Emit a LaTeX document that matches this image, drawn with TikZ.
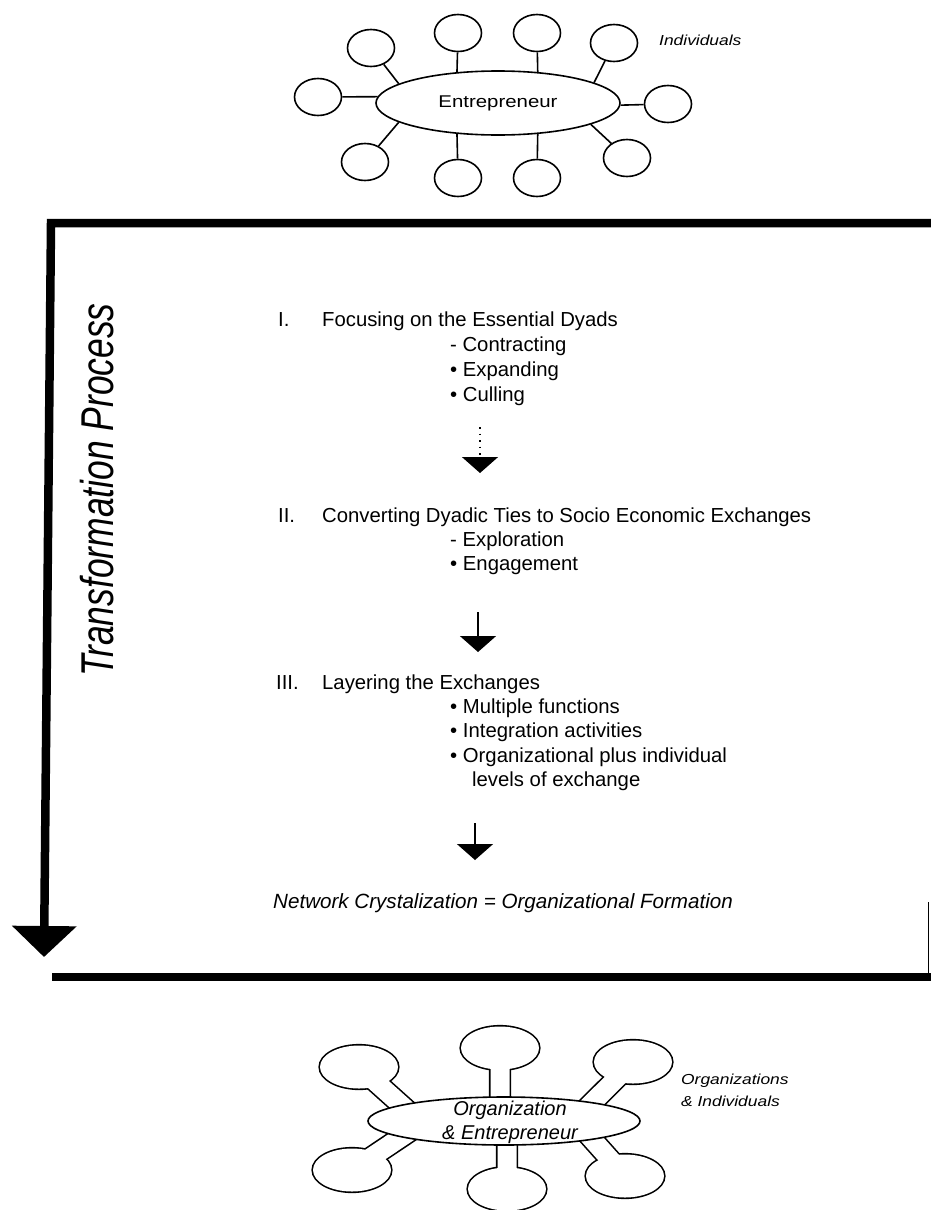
\documentclass[tikz,border=0pt]{standalone}
\usepackage{fontspec}
\setmainfont{Liberation Sans}
\newfontfamily\wideface{Liberation Sans}[FakeStretch=1.2]
\newfontfamily\narrowface{Liberation Sans}[FakeStretch=0.77]
\usetikzlibrary{shapes.geometric,arrows.meta,calc}
\pgfdeclarelayer{under}
\pgfsetlayers{under,main}

% strip joining a hub border point (#2) to a satellite node (#3)
\newcommand\neckstrip[3]{%
  \coordinate (nk-in) at ($(#2)!-10pt!(#3.center)$);
  \path[#1] ($(nk-in)!9.5pt!90:(#3.center)$) -- ($(#3.center)!9.5pt!-90:(nk-in)$)
    -- ($(#3.center)!9.5pt!90:(nk-in)$) -- ($(nk-in)!9.5pt!-90:(#3.center)$) -- cycle;}

\tikzset{
  hub/.style={ellipse, draw, line width=1.6pt, inner sep=0pt},
  pod/.style={ellipse, draw, line width=1.6pt, minimum width=47pt, minimum height=37pt, inner sep=0pt},
  spoke/.style={line width=1.6pt},
  bigpod/.style={ellipse, draw, line width=3.2pt, minimum width=78pt, minimum height=43pt, inner sep=0pt},
  txt/.style={anchor=base west, inner sep=0pt, font=\fontsize{20.3}{24}\selectfont},
  ittxt/.style={anchor=base west, inner sep=0pt, font=\itshape\fontsize{20.6}{24}\selectfont},
  tag/.style={anchor=west, inner sep=0pt, align=left, font=\wideface\itshape\fontsize{14.5}{22}\selectfont},
  flowarrow/.style={line width=1.6pt, -{Triangle[width=36pt,length=16pt]}},
  procline/.style={line width=8.5pt, -{Triangle[width=63pt,length=31pt]}},
  frameline/.style={line width=8pt},
}

\begin{document}
\begin{tikzpicture}[x=1pt,y=-1pt]
\useasboundingbox (0,0) rectangle (931,1210);

% ---------- individuals around the entrepreneur ----------
\node[hub, minimum width=244pt, minimum height=64pt] (E) at (498,103)
  {\wideface\fontsize{17}{20}\selectfont Entrepreneur};
\node[pod] (tl) at (371,48) {};
\node[pod] (l)  at (318,97) {};
\node[pod] (t1) at (458,33) {};
\node[pod] (t2) at (537,33) {};
\node[pod] (tr) at (614,43) {};
\node[pod] (r)  at (668,104) {};
\node[pod] (br) at (627,158) {};
\node[pod] (b2) at (537,178) {};
\node[pod] (b1) at (458,178) {};
\node[pod] (bl) at (365,162) {};
\draw[spoke] (E.169) -- (tl);
\draw[spoke] (E.177) -- (l);
\draw[spoke] (E.143) -- (t1);
\draw[spoke] (E.38)  -- (t2);
\draw[spoke] (E.12)  -- (tr);
\draw[spoke] (E.359) -- (r);
\draw[spoke] (E.347) -- (br);
\draw[spoke] (E.322) -- (b2);
\draw[spoke] (E.217) -- (b1);
\draw[spoke] (E.191) -- (bl);
\node[tag] (ind) at (659,40) {Individuals};

% ---------- transformation frame ----------
\coordinate (fr-r) at (931,223);
\coordinate (fr-c) at (51,223);
\coordinate (fr-tip) at (44,957);
\draw[procline] (fr-r) -- (fr-c) -- (fr-tip);
\coordinate (fb-l) at (52,977);
\coordinate (fb-r) at (931,977);
\draw[frameline] (fb-l) -- (fb-r);
\coordinate (fs-a) at (928,902);
\coordinate (fs-b) at (928,975);
\draw[line width=0.8pt] (fs-a) -- (fs-b);

\node[rotate=90, inner sep=0pt, font=\narrowface\itshape\fontsize{46}{50}\selectfont]
  (tp) at (97,490) {Transformation Process};

% stage I
\node[txt] (n1) at (278,326) {I.};
\node[txt] (h1) at (322,326) {Focusing on the Essential Dyads};
\node[txt] (i11) at (450,351) {- Contracting};
\node[txt] (i12) at (450,376) {• Expanding};
\node[txt] (i13) at (450,401) {• Culling};
\coordinate (a1s) at (480,427);
\coordinate (a1m) at (480,457);
\coordinate (a1e) at (480,473);
\draw[line width=1.6pt, dash pattern=on 1.5pt off 5pt] (a1s) -- (a1m);
\draw[flowarrow] (a1m) -- (a1e);

% stage II
\node[txt] (n2) at (278,522) {II.};
\node[txt] (h2) at (322,522) {Converting Dyadic Ties to Socio Economic Exchanges};
\node[txt] (i21) at (450,546) {- Exploration};
\node[txt] (i22) at (450,570) {• Engagement};
\coordinate (a2s) at (478,612);
\coordinate (a2e) at (478,652);
\draw[flowarrow] (a2s) -- (a2e);

% stage III
\node[txt] (n3) at (276,689) {III.};
\node[txt] (h3) at (322,689) {Layering the Exchanges};
\node[txt] (i31) at (450,713) {• Multiple functions};
\node[txt] (i32) at (450,737) {• Integration activities};
\node[txt] (i33) at (450,762) {• Organizational plus individual};
\node[txt] (i34) at (472,786) {levels of exchange};
\coordinate (a3s) at (475,823);
\coordinate (a3e) at (475,860);
\draw[flowarrow] (a3s) -- (a3e);

\node[ittxt] (net) at (273,908) {Network Crystalization = Organizational Formation};

% ---------- organizations around the organization ----------
\node[hub, fill=white, minimum width=272pt, minimum height=48pt] (E2) at (504,1121) {};
\node[inner sep=0pt, align=center, font=\itshape\fontsize{20}{24}\selectfont]
  (e2txt) at (510,1122) {Organization\\\& Entrepreneur};
\node[tag] (orgind) at (681,1090) {Organizations\\\& Individuals};

\begin{pgfonlayer}{under}
  \fill[white] (0,0) rectangle (931,1210);
  \node[bigpod] (nt)  at (500,1048) {};
  \node[bigpod] (ntl) at (359,1067) {};
  \node[bigpod] (ntr) at (633,1062) {};
  \node[bigpod] (nbl) at (352,1170) {};
  \node[bigpod] (nb)  at (507,1189) {};
  \node[bigpod] (nbr) at (625,1176) {};
  \neckstrip{draw, line width=3.2pt}{E2.99}{nt}
  \neckstrip{draw, line width=3.2pt}{E2.171}{ntl}
  \neckstrip{draw, line width=3.2pt}{E2.12}{ntr}
  \neckstrip{draw, line width=3.2pt}{E2.189}{nbl}
  \neckstrip{draw, line width=3.2pt}{E2.277}{nb}
  \neckstrip{draw, line width=3.2pt}{E2.348}{nbr}
  \foreach \p in {nt,ntl,ntr,nbl,nb,nbr}
    \fill[white] (\p.center) ellipse [x radius=39pt, y radius=21.5pt];
  \neckstrip{fill=white}{E2.99}{nt}
  \neckstrip{fill=white}{E2.171}{ntl}
  \neckstrip{fill=white}{E2.12}{ntr}
  \neckstrip{fill=white}{E2.189}{nbl}
  \neckstrip{fill=white}{E2.277}{nb}
  \neckstrip{fill=white}{E2.348}{nbr}
\end{pgfonlayer}
\end{tikzpicture}
\end{document}
